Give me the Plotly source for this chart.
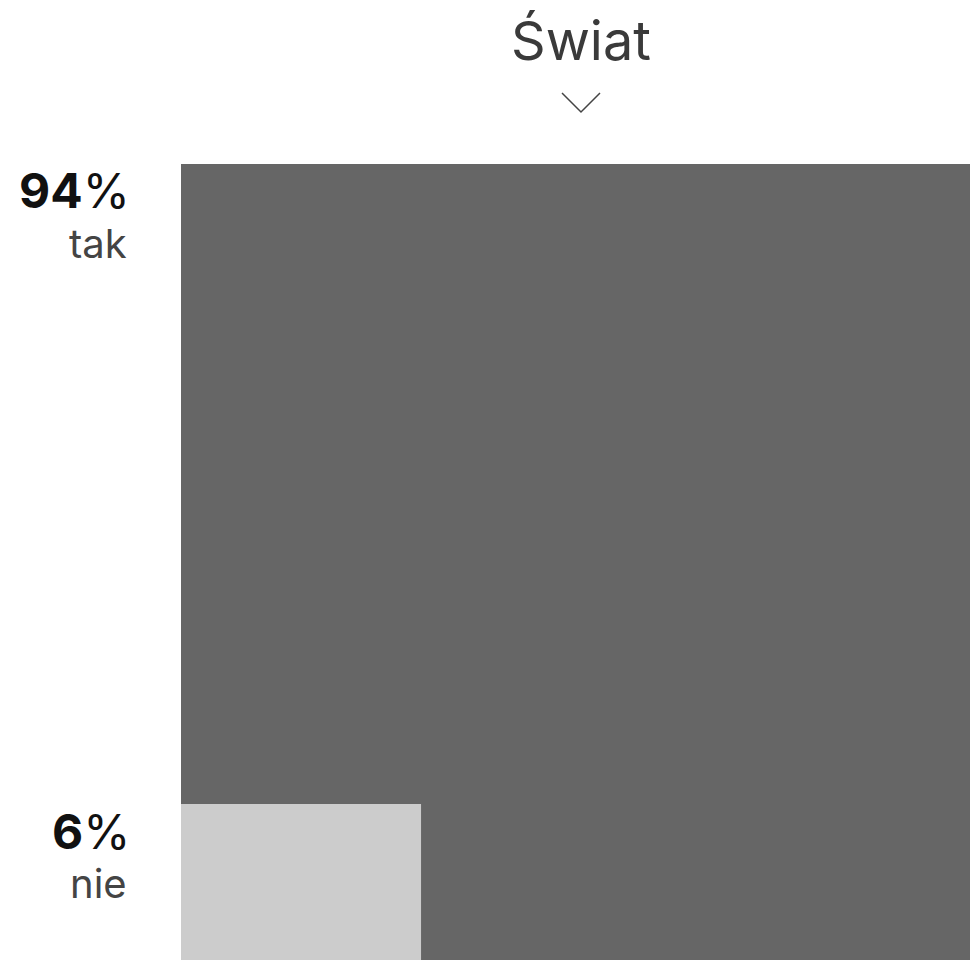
import math
import plotly.graph_objects as go

# Data
title = "Świat"
categories = ["tak", "nie"]
values = [94, 6]
colors = ["#666666", "#cccccc"]

W, H = 970, 960
ML, MT = 181, 164
PX_PER_UNIT = 98.0
pw, ph = W - ML, H - MT

fig = go.Figure()

# big square: whole (tak + nie), small square: nie, side ~ sqrt(value)
total = sum(values)
big_side = math.sqrt(total)
small_side = math.sqrt(values[1])
small_top = 640 / PX_PER_UNIT

fig.add_shape(type="rect", xref="x", yref="y", x0=0, x1=big_side, y0=0, y1=big_side,
              fillcolor=colors[0], line=dict(width=0), layer="below")
fig.add_shape(type="rect", xref="x", yref="y", x0=0, x1=small_side,
              y0=small_top, y1=small_top + small_side,
              fillcolor=colors[1], line=dict(width=0), layer="below")

fig.add_trace(go.Scatter(x=[0], y=[0], mode="markers", marker=dict(opacity=0),
                         hoverinfo="skip", showlegend=False))

def px_x(p):
    return (p - ML) / pw

def px_y(p):
    return (H - p) / ph

FONT = "Inter, 'Open Sans', sans-serif"

# title
fig.add_annotation(text=title, xref="paper", yref="paper", x=px_x(581), y=px_y(40),
                   xanchor="center", yanchor="middle", showarrow=False,
                   font=dict(family=FONT, size=54, color="#3a3a3a"))
# chevron
fig.add_shape(type="path", xref="paper", yref="paper",
              path=f"M {px_x(562)},{px_y(93)} L {px_x(581)},{px_y(112)} L {px_x(600)},{px_y(93)}",
              line=dict(color="#444444", width=1.5))

label_y = [(191, 243), (831, 883)]
for cat, val, (y1, y2) in zip(categories, values, label_y):
    fig.add_annotation(text=f"<b>{val}</b>%", xref="paper", yref="paper",
                       x=px_x(132), y=px_y(y1), xanchor="right", yanchor="middle",
                       showarrow=False, font=dict(family=FONT, size=48, color="#111111"))
    fig.add_annotation(text=cat, xref="paper", yref="paper",
                       x=px_x(129), y=px_y(y2), xanchor="right", yanchor="middle",
                       showarrow=False, font=dict(family=FONT, size=40, color="#444444"))

fig.update_layout(
    width=W, height=H, autosize=False,
    margin=dict(l=ML, r=0, t=MT, b=0, pad=0),
    paper_bgcolor="white", plot_bgcolor="white",
    xaxis=dict(range=[0, pw / PX_PER_UNIT], visible=False, fixedrange=True),
    yaxis=dict(range=[ph / PX_PER_UNIT, 0], visible=False, fixedrange=True),
    showlegend=False,
)

fig.write_html(
    "out.html",
    config={"displayModeBar": False, "responsive": False},
    post_script="document.body.style.margin='0';document.body.style.overflow='hidden';",
)
